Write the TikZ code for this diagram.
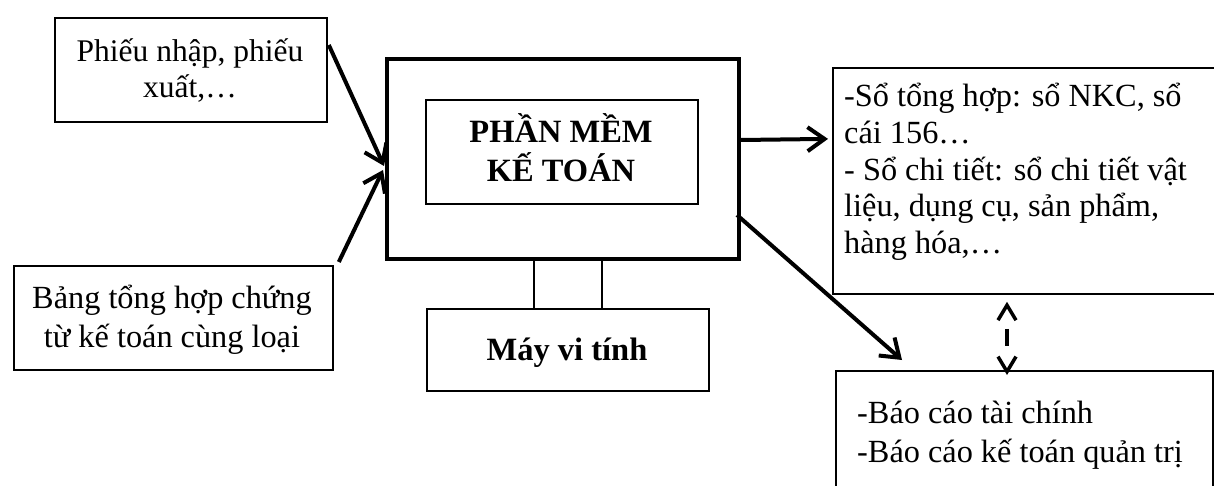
\documentclass[tikz,border=0pt]{standalone}
\usepackage{fontspec}
\setmainfont{Liberation Serif}
\usetikzlibrary{arrows.meta,calc}
\begin{document}
\begin{tikzpicture}[x=1pt,y=-1pt,
  box/.style={draw,line width=1.8pt,rectangle,inner sep=0pt,anchor=north west},
  txt/.style={inner sep=0pt,anchor=base,font=\fontsize{32}{37}\selectfont},
  flow/.style={line width=4pt,-{Straight Barb[length=17pt,width=24pt]}},
  link/.style={line width=3.5pt,dash pattern=on 0pt off 22pt on 17pt off 200pt,
    {Straight Barb[length=15pt,width=18pt]}-{Straight Barb[length=15pt,width=18pt]}}]
\useasboundingbox (0,0) rectangle (1214,486);
\clip (0,0) rectangle (1214,486);

% input documents
\node[box,minimum width=272pt,minimum height=104pt] (b1) at (54,17) {};
\node[txt,align=center,font=\fontsize{31.5}{36}\selectfont] (t1) at (190,98) {Phiếu nhập, phiếu\\xuất,…};
\node[box,minimum width=319pt,minimum height=104pt] (b2) at (13,265) {};
\node[txt,align=center,font=\fontsize{32.3}{39}\selectfont] (t2) at (172,347) {Bảng tổng hợp chứng\\từ kế toán cùng loại};

% computer: screen, software, stand, base
\node[box,line width=4pt,minimum width=352pt,minimum height=200pt] (mon) at (385,57) {};
\node[box,minimum width=272pt,minimum height=104pt] (sw) at (425,99) {};
\node[txt,align=center,font=\bfseries\fontsize{32.5}{39}\selectfont] (tsw) at (561,182) {PHẦN MỀM\\KẾ TOÁN};
\node[box,minimum width=282pt,minimum height=82pt] (pc) at (426,308) {};
\node[txt,font=\bfseries\fontsize{32.5}{37}\selectfont] (tpc) at (567,360) {Máy vi tính};
\draw[line width=1.5pt] (mon.south west) ++(149,0) -- ($(pc.north west)+(108,0)$);
\draw[line width=1.5pt] (mon.south west) ++(217,0) -- ($(pc.north west)+(176,0)$);

% output books and reports
\node[box,minimum width=398pt,minimum height=226pt] (r1) at (832,67) {};
\node[txt,anchor=base west,align=left,font=\fontsize{32.3}{36.5}\selectfont] (tr1) at (844,253)
  {-Sổ tổng hợp: sổ NKC, sổ\\cái 156…\\- Sổ chi tiết: sổ chi tiết vật\\liệu, dụng cụ, sản phẩm,\\hàng hóa,…};
\node[box,minimum width=377pt,minimum height=140pt] (r2) at (835,370) {};
\node[txt,anchor=base west,align=left,font=\fontsize{32.3}{39}\selectfont] (tr2) at (857,462)
  {-Báo cáo tài chính\\-Báo cáo kế toán quản trị};

% flows
\draw[flow] ($(b1.north east)+(1,28)$) -- ($(mon.west)+(-1,7)$);
\draw[flow] ($(b2.north east)+(5,-3)$) -- ($(mon.west)+(-2,11)$);
\draw[flow] ($(mon.east)+(0,-19)$) -- ($(r1.west)+(-4,-42)$);
\draw[flow] ($(mon.east)+(-4,56)$) -- ($(r2.north west)+(67,-10)$);
\coordinate (d1) at ($(r1.south west)+(175,7)$);
\coordinate (d2) at ($(r2.north west)+(172,5)$);
\draw[link] (d1) -- (d2);
\end{tikzpicture}
\end{document}
